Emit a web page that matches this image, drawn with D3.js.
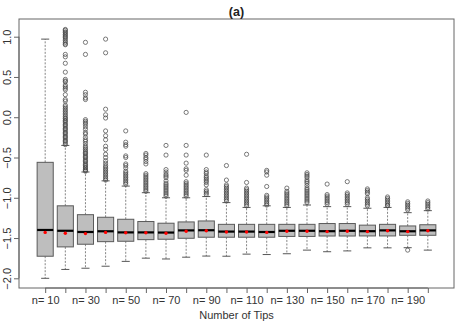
<!DOCTYPE html>
<html>
<head>
<meta charset="utf-8">
<script src="https://cdn.jsdelivr.net/npm/d3@7"></script>
<style>
  body { margin: 0; background: #fff; }
  svg { display: block; font-family: "Liberation Sans", Arial, sans-serif; }
</style>
</head>
<body>
<div id="chart"></div>
<script>
// Number of tips per group
const tips = [10, 20, 30, 40, 50, 60, 70, 80, 90, 100, 110, 120, 130, 140, 150, 160, 170, 180, 190, 200];

// Box statistics
const lowerWhisker = [-2.0, -1.89, -1.875, -1.85, -1.79, -1.75, -1.76, -1.738, -1.724, -1.726,
                      -1.70, -1.705, -1.695, -1.65, -1.67, -1.66, -1.622, -1.622, -1.62, -1.65];
const q1 = [-1.726, -1.61, -1.577, -1.545, -1.54, -1.52, -1.515, -1.503, -1.49, -1.49,
            -1.49, -1.49, -1.48, -1.48, -1.475, -1.475, -1.474, -1.474, -1.466, -1.466];
const median = [-1.40, -1.41, -1.425, -1.416, -1.43, -1.43, -1.432, -1.405, -1.403, -1.42,
                -1.42, -1.425, -1.41, -1.41, -1.415, -1.41, -1.415, -1.405, -1.416, -1.405];
const q3 = [-0.56, -1.10, -1.21, -1.242, -1.267, -1.295, -1.316, -1.30, -1.288, -1.33,
            -1.33, -1.33, -1.33, -1.33, -1.32, -1.32, -1.34, -1.33, -1.35, -1.335];
const upperWhisker = [0.97, -0.35, -0.68, -0.79, -0.855, -0.937, -1.0, -1.0, -0.985, -1.06,
                      -1.12, -1.10, -1.12, -1.09, -1.11, -1.11, -1.13, -1.12, -1.185, -1.16];
const means = [-1.43, -1.44, -1.445, -1.43, -1.435, -1.435, -1.44, -1.415, -1.41, -1.425,
               -1.425, -1.43, -1.415, -1.415, -1.42, -1.415, -1.42, -1.41, -1.42, -1.41];

const outliers = [
  [],
  [1.09, 1.08, 1.06, 1.05, 1.03, 1.02, 1.0, 0.99, 0.97, 0.95, 0.93, 0.91, 0.9, 0.78, 0.75, 0.67,
   0.56, 0.47, 0.45, 0.44, 0.4, 0.38, 0.36, 0.34, 0.28, 0.22, 0.2, 0.15, 0.13, 0.11, 0.09, 0.07,
   0.05, 0.03, 0.01, -0.01, -0.02, -0.04, -0.05, -0.07, -0.09, -0.1, -0.12, -0.14, -0.15, -0.17,
   -0.19, -0.2, -0.22, -0.24, -0.25, -0.27, -0.29, -0.3, -0.32, -0.34],
  [0.93, 0.78, 0.31, 0.28, 0.24, 0.22, -0.03, -0.05, -0.07, -0.09, -0.12, -0.15, -0.19, -0.21,
   -0.25, -0.28, -0.3, -0.33, -0.36, -0.38, -0.4, -0.42, -0.44, -0.45, -0.47, -0.49, -0.5, -0.52,
   -0.54, -0.55, -0.57, -0.59, -0.6, -0.62, -0.63, -0.65, -0.66, -0.67],
  [0.97, 0.8, 0.1, 0.03, -0.01, -0.17, -0.23, -0.28, -0.36, -0.4, -0.46, -0.5, -0.54, -0.57,
   -0.6, -0.62, -0.64, -0.66, -0.68, -0.7, -0.72, -0.74, -0.76, -0.78],
  [-0.17, -0.31, -0.34, -0.36, -0.48, -0.5, -0.58, -0.6, -0.63, -0.67, -0.69, -0.71, -0.73,
   -0.75, -0.77, -0.79, -0.81, -0.83],
  [-0.45, -0.47, -0.5, -0.52, -0.55, -0.58, -0.7, -0.72, -0.74, -0.76, -0.78, -0.8, -0.82,
   -0.84, -0.86, -0.88, -0.9, -0.92],
  [-0.35, -0.47, -0.65, -0.68, -0.71, -0.73, -0.75, -0.79, -0.82, -0.84, -0.86, -0.88, -0.9,
   -0.92, -0.94, -0.96, -0.98],
  [0.06, -0.35, -0.47, -0.57, -0.64, -0.66, -0.72, -0.8, -0.82, -0.84, -0.86, -0.88, -0.9,
   -0.92, -0.94, -0.96, -0.98],
  [-0.47, -0.65, -0.68, -0.7, -0.73, -0.75, -0.77, -0.79, -0.81, -0.84, -0.9, -0.92, -0.94, -0.96],
  [-0.6, -0.78, -0.84, -0.86, -0.88, -0.9, -0.92, -0.94, -0.96, -0.98, -1.0, -1.02, -1.04],
  [-0.46, -0.81, -0.88, -0.9, -0.92, -0.94, -0.96, -0.98, -1.0, -1.02, -1.04, -1.06, -1.08, -1.1],
  [-0.66, -0.68, -0.72, -0.86, -0.97, -0.99, -1.01, -1.03, -1.05, -1.07, -1.09],
  [-0.88, -0.92, -0.94, -0.96, -0.98, -1.0, -1.02, -1.04, -1.06, -1.08, -1.1],
  [-0.69, -0.71, -0.73, -0.75, -0.78, -0.8, -0.82, -0.85, -0.88, -0.9, -0.92, -0.94, -0.96,
   -0.98, -1.0, -1.02, -1.04, -1.06],
  [-0.83, -0.96, -0.98, -1.0, -1.02, -1.04, -1.06, -1.08],
  [-0.8, -0.94, -0.96, -0.98, -1.0, -1.02, -1.04, -1.06, -1.08],
  [-0.89, -0.91, -0.93, -0.95, -1.0, -1.02, -1.04, -1.06, -1.08, -1.1],
  [-0.99, -1.01, -1.03, -1.05, -1.07, -1.09, -1.1],
  [-1.05, -1.07, -1.09, -1.11, -1.13, -1.15, -1.65],
  [-1.04, -1.06, -1.08, -1.1, -1.12, -1.14]
];

const yTicks = [-2.0, -1.5, -1.0, -0.5, 0.0, 0.5, 1.0];

const width = 458;
const height = 324;
const plot = { left: 19, right: 454, top: 19, bottom: 288 };

const svg = d3.select('#chart')
  .append('svg')
  .attr('width', width)
  .attr('height', height);

// R-style extended ranges
const x = d3.scaleLinear()
  .domain([-0.3, tips.length + 1.3])
  .range([plot.left, plot.right]);

const y = d3.scaleLinear()
  .domain([-2, 1])
  .range([278.3, 36.7]);

const boxW = x(0.8) - x(0);
const capW = boxW / 2;

const data = tips.map((n, i) => ({
  n,
  pos: i + 1,
  lw: lowerWhisker[i],
  q1: q1[i],
  med: median[i],
  q3: q3[i],
  uw: upperWhisker[i],
  mean: means[i],
  out: outliers[i]
}));

const boxes = svg.append('g').attr('class', 'boxes');

const grp = boxes.selectAll('g.box')
  .data(data)
  .enter()
  .append('g')
  .attr('class', 'box');

// whiskers (dashed)
grp.append('line')
  .attr('x1', d => x(d.pos)).attr('x2', d => x(d.pos))
  .attr('y1', d => y(d.q3)).attr('y2', d => y(d.uw))
  .attr('stroke', '#666').attr('stroke-width', 0.8)
  .attr('stroke-dasharray', '2,1.5');
grp.append('line')
  .attr('x1', d => x(d.pos)).attr('x2', d => x(d.pos))
  .attr('y1', d => y(d.q1)).attr('y2', d => y(d.lw))
  .attr('stroke', '#666').attr('stroke-width', 0.8)
  .attr('stroke-dasharray', '2,1.5');

// staples
grp.append('line')
  .attr('x1', d => x(d.pos) - capW / 2).attr('x2', d => x(d.pos) + capW / 2)
  .attr('y1', d => y(d.uw)).attr('y2', d => y(d.uw))
  .attr('stroke', '#444').attr('stroke-width', 0.9);
grp.append('line')
  .attr('x1', d => x(d.pos) - capW / 2).attr('x2', d => x(d.pos) + capW / 2)
  .attr('y1', d => y(d.lw)).attr('y2', d => y(d.lw))
  .attr('stroke', '#444').attr('stroke-width', 0.9);

// boxes
grp.append('rect')
  .attr('x', d => x(d.pos) - boxW / 2)
  .attr('width', boxW)
  .attr('y', d => y(d.q3))
  .attr('height', d => y(d.q1) - y(d.q3))
  .attr('fill', '#bebebe')
  .attr('stroke', '#5a5a5a')
  .attr('stroke-width', 1);

// medians
grp.append('line')
  .attr('x1', d => x(d.pos) - boxW / 2).attr('x2', d => x(d.pos) + boxW / 2)
  .attr('y1', d => y(d.med)).attr('y2', d => y(d.med))
  .attr('stroke', '#000').attr('stroke-width', 2.2);

// outliers
grp.selectAll('circle.out')
  .data(d => d.out.map(v => ({ pos: d.pos, v })))
  .enter()
  .append('circle')
  .attr('class', 'out')
  .attr('cx', d => x(d.pos))
  .attr('cy', d => y(d.v))
  .attr('r', 2.1)
  .attr('fill', 'none')
  .attr('stroke', '#444')
  .attr('stroke-width', 0.7);

// means
grp.append('circle')
  .attr('cx', d => x(d.pos))
  .attr('cy', d => y(d.mean))
  .attr('r', 1.7)
  .attr('fill', '#ff0000');

// frame
svg.append('rect')
  .attr('x', plot.left)
  .attr('y', plot.top)
  .attr('width', plot.right - plot.left)
  .attr('height', plot.bottom - plot.top)
  .attr('fill', 'none')
  .attr('stroke', '#666')
  .attr('stroke-width', 1);

// y axis
const yAxis = svg.append('g')
  .attr('transform', `translate(${plot.left},0)`)
  .call(d3.axisLeft(y).tickValues(yTicks).tickSize(5).tickFormat(d3.format('.1f')));
yAxis.select('.domain')
  .attr('d', `M-0,${y(-2)}V${y(1)}`)
  .attr('stroke', '#666');
yAxis.selectAll('.tick line').attr('stroke', '#666');
yAxis.selectAll('.tick text')
  .attr('x', 0).attr('dy', 0)
  .attr('transform', 'translate(-8,0) rotate(-90)')
  .attr('text-anchor', 'middle')
  .attr('font-size', 11)
  .attr('fill', '#333')
  .attr('font-family', '"Liberation Sans", Arial, sans-serif');

// x axis
const xAxis = svg.append('g')
  .attr('transform', `translate(0,${plot.bottom})`)
  .call(d3.axisBottom(x)
    .tickValues(data.map(d => d.pos))
    .tickSize(5)
    .tickFormat((d, i) => (i % 2 === 0 ? 'n= ' + tips[i] : '')));
xAxis.select('.domain')
  .attr('d', `M${x(1)},0H${x(tips.length)}`)
  .attr('stroke', '#666');
xAxis.selectAll('.tick line').attr('stroke', '#666');
xAxis.selectAll('.tick text')
  .attr('y', 8)
  .attr('font-size', 11)
  .attr('fill', '#333')
  .attr('font-family', '"Liberation Sans", Arial, sans-serif');

// title and axis label
svg.append('text')
  .attr('x', (plot.left + plot.right) / 2)
  .attr('y', 16)
  .attr('text-anchor', 'middle')
  .attr('font-size', 12.5)
  .attr('font-weight', 'bold')
  .attr('fill', '#222')
  .text('(a)');

svg.append('text')
  .attr('x', (plot.left + plot.right) / 2)
  .attr('y', 319)
  .attr('text-anchor', 'middle')
  .attr('font-size', 11)
  .attr('fill', '#333')
  .text('Number of Tips');
</script>
</body>
</html>
